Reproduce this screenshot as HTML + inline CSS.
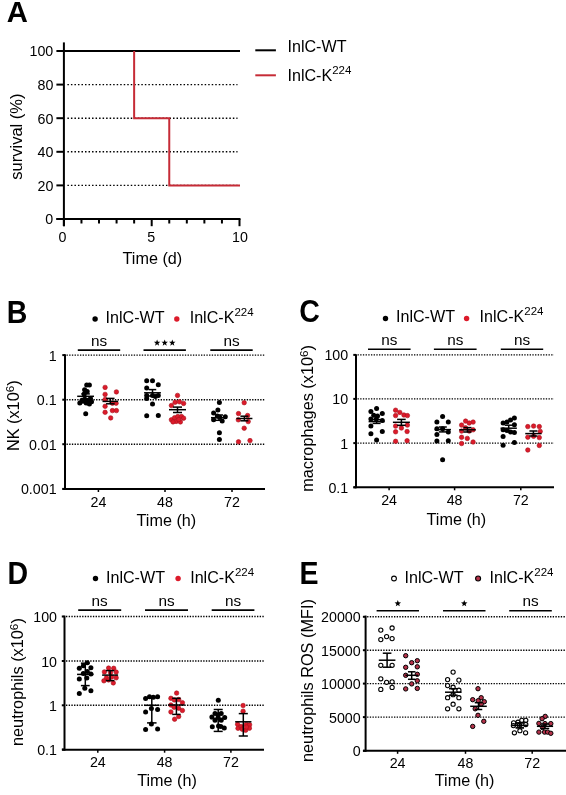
<!DOCTYPE html>
<html><head><meta charset="utf-8"><style>
html,body{margin:0;padding:0;background:#fff;}
svg{display:block;will-change:transform;}
text{font-family:"Liberation Sans", sans-serif;}
</style></head><body>
<svg width="566" height="795" viewBox="0 0 566 795">
<rect width="566" height="795" fill="#fff"/>
<text transform="translate(17.40,21.80) scale(0.97,1)" font-size="30.2" text-anchor="middle" font-weight="bold" fill="#000" >A</text>
<line x1="67.40" y1="185.40" x2="237.50" y2="185.40" stroke="#000" stroke-width="1.4" stroke-dasharray="1.5 2.02"/>
<line x1="67.40" y1="151.80" x2="237.50" y2="151.80" stroke="#000" stroke-width="1.4" stroke-dasharray="1.5 2.02"/>
<line x1="67.40" y1="118.20" x2="237.50" y2="118.20" stroke="#000" stroke-width="1.4" stroke-dasharray="1.5 2.02"/>
<line x1="67.40" y1="84.60" x2="237.50" y2="84.60" stroke="#000" stroke-width="1.4" stroke-dasharray="1.5 2.02"/>
<line x1="63.90" y1="42.40" x2="63.90" y2="226.20" stroke="#000" stroke-width="2" />
<line x1="56.40" y1="219.00" x2="240.50" y2="219.00" stroke="#000" stroke-width="2" />
<line x1="56.40" y1="219.00" x2="63.90" y2="219.00" stroke="#000" stroke-width="2" />
<text transform="translate(53.30,224.30) scale(0.92,1)" font-size="15.5" text-anchor="end" font-weight="normal" fill="#000" >0</text>
<line x1="56.40" y1="185.40" x2="63.90" y2="185.40" stroke="#000" stroke-width="2" />
<text transform="translate(53.30,190.70) scale(0.92,1)" font-size="15.5" text-anchor="end" font-weight="normal" fill="#000" >20</text>
<line x1="56.40" y1="151.80" x2="63.90" y2="151.80" stroke="#000" stroke-width="2" />
<text transform="translate(53.30,157.10) scale(0.92,1)" font-size="15.5" text-anchor="end" font-weight="normal" fill="#000" >40</text>
<line x1="56.40" y1="118.20" x2="63.90" y2="118.20" stroke="#000" stroke-width="2" />
<text transform="translate(53.30,123.50) scale(0.92,1)" font-size="15.5" text-anchor="end" font-weight="normal" fill="#000" >60</text>
<line x1="56.40" y1="84.60" x2="63.90" y2="84.60" stroke="#000" stroke-width="2" />
<text transform="translate(53.30,89.90) scale(0.92,1)" font-size="15.5" text-anchor="end" font-weight="normal" fill="#000" >80</text>
<line x1="56.40" y1="51.00" x2="63.90" y2="51.00" stroke="#000" stroke-width="2" />
<text transform="translate(53.30,56.30) scale(0.92,1)" font-size="15.5" text-anchor="end" font-weight="normal" fill="#000" >100</text>
<line x1="63.90" y1="219.00" x2="63.90" y2="226.20" stroke="#000" stroke-width="2" />
<text transform="translate(62.40,242.00) scale(0.92,1)" font-size="15.5" text-anchor="middle" font-weight="normal" fill="#000" >0</text>
<line x1="81.46" y1="219.00" x2="81.46" y2="223.50" stroke="#000" stroke-width="2" />
<line x1="99.02" y1="219.00" x2="99.02" y2="223.50" stroke="#000" stroke-width="2" />
<line x1="116.58" y1="219.00" x2="116.58" y2="223.50" stroke="#000" stroke-width="2" />
<line x1="134.14" y1="219.00" x2="134.14" y2="223.50" stroke="#000" stroke-width="2" />
<line x1="151.70" y1="219.00" x2="151.70" y2="226.20" stroke="#000" stroke-width="2" />
<text transform="translate(151.20,242.00) scale(0.92,1)" font-size="15.5" text-anchor="middle" font-weight="normal" fill="#000" >5</text>
<line x1="169.26" y1="219.00" x2="169.26" y2="223.50" stroke="#000" stroke-width="2" />
<line x1="186.82" y1="219.00" x2="186.82" y2="223.50" stroke="#000" stroke-width="2" />
<line x1="204.38" y1="219.00" x2="204.38" y2="223.50" stroke="#000" stroke-width="2" />
<line x1="221.94" y1="219.00" x2="221.94" y2="223.50" stroke="#000" stroke-width="2" />
<line x1="239.50" y1="219.00" x2="239.50" y2="226.20" stroke="#000" stroke-width="2" />
<text transform="translate(240.00,242.00) scale(0.92,1)" font-size="15.5" text-anchor="middle" font-weight="normal" fill="#000" >10</text>
<line x1="63.90" y1="51.00" x2="240.00" y2="51.00" stroke="#000" stroke-width="2" />
<polyline points="134.14,51.00 134.14,118.20 169.26,118.20 169.26,185.40 240.00,185.40" fill="none" stroke="#c62b36" stroke-width="2"/>
<text x="152.40" y="263.90" font-size="16.2" text-anchor="middle" font-weight="normal" fill="#000" >Time (d)</text>
<text transform="translate(21.60,136.60) rotate(-90) scale(1.0,1)" font-size="16.5" text-anchor="middle">survival (%)</text>
<line x1="255.30" y1="50.30" x2="275.90" y2="50.30" stroke="#000" stroke-width="2" />
<line x1="255.30" y1="75.30" x2="275.90" y2="75.30" stroke="#c62b36" stroke-width="2" />
<text x="287.50" y="51.80" font-size="16.1" text-anchor="start" font-weight="normal" fill="#000" >InlC-WT</text>
<text x="287.50" y="80.80" font-size="16.1" text-anchor="start" font-weight="normal" fill="#000" >InlC-K<tspan font-size="11.5" dy="-7">224</tspan></text>
<text transform="translate(17.05,322.60) scale(0.93,1)" font-size="30.7" text-anchor="middle" font-weight="bold" fill="#000" >B</text>
<line x1="66.50" y1="355.10" x2="265.00" y2="355.10" stroke="#000" stroke-width="1.4" stroke-dasharray="1.35 1.34"/>
<line x1="66.50" y1="399.70" x2="265.00" y2="399.70" stroke="#000" stroke-width="1.4" stroke-dasharray="1.35 1.34"/>
<line x1="66.50" y1="444.20" x2="265.00" y2="444.20" stroke="#000" stroke-width="1.4" stroke-dasharray="1.35 1.34"/>
<line x1="65.00" y1="354.30" x2="65.00" y2="490.00" stroke="#000" stroke-width="2" />
<line x1="62.50" y1="489.00" x2="265.00" y2="489.00" stroke="#000" stroke-width="2" />
<line x1="62.30" y1="355.10" x2="65.00" y2="355.10" stroke="#000" stroke-width="2" />
<text transform="translate(56.60,360.60) scale(0.92,1)" font-size="15.5" text-anchor="end" font-weight="normal" fill="#000" >1</text>
<line x1="62.30" y1="399.70" x2="65.00" y2="399.70" stroke="#000" stroke-width="2" />
<text transform="translate(56.60,405.20) scale(0.92,1)" font-size="15.5" text-anchor="end" font-weight="normal" fill="#000" >0.1</text>
<line x1="62.30" y1="444.20" x2="65.00" y2="444.20" stroke="#000" stroke-width="2" />
<text transform="translate(56.60,449.70) scale(0.92,1)" font-size="15.5" text-anchor="end" font-weight="normal" fill="#000" >0.01</text>
<line x1="62.30" y1="488.90" x2="65.00" y2="488.90" stroke="#000" stroke-width="2" />
<text transform="translate(56.60,494.40) scale(0.92,1)" font-size="15.5" text-anchor="end" font-weight="normal" fill="#000" >0.001</text>
<line x1="98.40" y1="489.00" x2="98.40" y2="492.00" stroke="#000" stroke-width="1.5" />
<text transform="translate(98.40,506.60) scale(0.92,1)" font-size="15.5" text-anchor="middle" font-weight="normal" fill="#000" >24</text>
<line x1="165.00" y1="489.00" x2="165.00" y2="492.00" stroke="#000" stroke-width="1.5" />
<text transform="translate(165.00,506.60) scale(0.92,1)" font-size="15.5" text-anchor="middle" font-weight="normal" fill="#000" >48</text>
<line x1="232.00" y1="489.00" x2="232.00" y2="492.00" stroke="#000" stroke-width="1.5" />
<text transform="translate(232.00,506.60) scale(0.92,1)" font-size="15.5" text-anchor="middle" font-weight="normal" fill="#000" >72</text>
<text x="166.40" y="525.60" font-size="16.2" text-anchor="middle" font-weight="normal" fill="#000" >Time (h)</text>
<text transform="translate(18.90,415.70) rotate(-90) scale(1.0,1)" font-size="16.3" text-anchor="middle">NK (x10<tspan font-size="11.8" dy="-4.6">6</tspan><tspan dy="4.6">)</tspan></text>
<circle cx="95.10" cy="319.00" r="2.7" fill="#000" stroke="none" stroke-width="0"/>
<circle cx="176.80" cy="319.00" r="2.7" fill="#dc1b2b" stroke="none" stroke-width="0"/>
<text x="105.60" y="322.70" font-size="16.1" text-anchor="start" font-weight="normal" fill="#000" >InlC-WT</text>
<text x="189.70" y="322.70" font-size="16.1" text-anchor="start" font-weight="normal" fill="#000" >InlC-K<tspan font-size="11.5" dy="-7">224</tspan></text>
<line x1="77.80" y1="350.10" x2="120.20" y2="350.10" stroke="#000" stroke-width="1.6" />
<text x="99.00" y="345.90" font-size="15.3" text-anchor="middle" font-weight="normal" fill="#000" >ns</text>
<line x1="143.50" y1="350.10" x2="185.90" y2="350.10" stroke="#000" stroke-width="1.6" />
<polygon points="157.10,339.50 157.95,341.73 160.33,341.85 158.48,343.35 159.10,345.65 157.10,344.35 155.10,345.65 155.72,343.35 153.87,341.85 156.25,341.73" fill="#000"/>
<polygon points="164.70,339.50 165.55,341.73 167.93,341.85 166.08,343.35 166.70,345.65 164.70,344.35 162.70,345.65 163.32,343.35 161.47,341.85 163.85,341.73" fill="#000"/>
<polygon points="172.30,339.50 173.15,341.73 175.53,341.85 173.68,343.35 174.30,345.65 172.30,344.35 170.30,345.65 170.92,343.35 169.07,341.85 171.45,341.73" fill="#000"/>
<line x1="210.30" y1="350.10" x2="252.70" y2="350.10" stroke="#000" stroke-width="1.6" />
<text x="231.50" y="345.90" font-size="15.3" text-anchor="middle" font-weight="normal" fill="#000" >ns</text>
<circle cx="86.70" cy="384.90" r="2.5" fill="#000" stroke="none" stroke-width="0"/>
<circle cx="89.40" cy="384.90" r="2.5" fill="#000" stroke="none" stroke-width="0"/>
<circle cx="84.60" cy="389.70" r="2.5" fill="#000" stroke="none" stroke-width="0"/>
<circle cx="87.20" cy="391.50" r="2.5" fill="#000" stroke="none" stroke-width="0"/>
<circle cx="84.10" cy="393.90" r="2.5" fill="#000" stroke="none" stroke-width="0"/>
<circle cx="79.80" cy="402.90" r="2.5" fill="#000" stroke="none" stroke-width="0"/>
<circle cx="83.00" cy="401.30" r="2.5" fill="#000" stroke="none" stroke-width="0"/>
<circle cx="86.20" cy="402.90" r="2.5" fill="#000" stroke="none" stroke-width="0"/>
<circle cx="89.40" cy="404.00" r="2.5" fill="#000" stroke="none" stroke-width="0"/>
<circle cx="91.50" cy="401.80" r="2.5" fill="#000" stroke="none" stroke-width="0"/>
<circle cx="88.30" cy="400.30" r="2.5" fill="#000" stroke="none" stroke-width="0"/>
<circle cx="84.60" cy="399.20" r="2.5" fill="#000" stroke="none" stroke-width="0"/>
<circle cx="82.00" cy="400.30" r="2.5" fill="#000" stroke="none" stroke-width="0"/>
<circle cx="85.70" cy="413.80" r="2.5" fill="#000" stroke="none" stroke-width="0"/>
<circle cx="90.50" cy="398.50" r="2.5" fill="#000" stroke="none" stroke-width="0"/>
<line x1="77.20" y1="396.30" x2="94.00" y2="396.30" stroke="#000" stroke-width="1.5" />
<line x1="85.60" y1="393.90" x2="85.60" y2="399.00" stroke="#000" stroke-width="1.5" />
<line x1="81.35" y1="393.90" x2="89.85" y2="393.90" stroke="#000" stroke-width="1.5" />
<line x1="81.35" y1="399.00" x2="89.85" y2="399.00" stroke="#000" stroke-width="1.5" />
<circle cx="105.10" cy="387.40" r="2.25" fill="#dc1b2b" stroke="#a8111b" stroke-width="0.6"/>
<circle cx="116.40" cy="391.90" r="2.25" fill="#dc1b2b" stroke="#a8111b" stroke-width="0.6"/>
<circle cx="105.10" cy="394.40" r="2.25" fill="#dc1b2b" stroke="#a8111b" stroke-width="0.6"/>
<circle cx="105.10" cy="399.50" r="2.25" fill="#dc1b2b" stroke="#a8111b" stroke-width="0.6"/>
<circle cx="116.10" cy="403.20" r="2.25" fill="#dc1b2b" stroke="#a8111b" stroke-width="0.6"/>
<circle cx="105.10" cy="406.30" r="2.25" fill="#dc1b2b" stroke="#a8111b" stroke-width="0.6"/>
<circle cx="105.10" cy="412.30" r="2.25" fill="#dc1b2b" stroke="#a8111b" stroke-width="0.6"/>
<circle cx="112.40" cy="410.60" r="2.25" fill="#dc1b2b" stroke="#a8111b" stroke-width="0.6"/>
<circle cx="116.40" cy="410.60" r="2.25" fill="#dc1b2b" stroke="#a8111b" stroke-width="0.6"/>
<circle cx="110.70" cy="417.90" r="2.25" fill="#dc1b2b" stroke="#a8111b" stroke-width="0.6"/>
<circle cx="112.40" cy="403.20" r="2.25" fill="#dc1b2b" stroke="#a8111b" stroke-width="0.6"/>
<line x1="102.50" y1="401.40" x2="118.10" y2="401.40" stroke="#000" stroke-width="1.5" />
<line x1="110.30" y1="398.40" x2="110.30" y2="403.80" stroke="#000" stroke-width="1.5" />
<line x1="106.05" y1="398.40" x2="114.55" y2="398.40" stroke="#000" stroke-width="1.5" />
<line x1="106.05" y1="403.80" x2="114.55" y2="403.80" stroke="#000" stroke-width="1.5" />
<circle cx="146.70" cy="380.70" r="2.5" fill="#000" stroke="none" stroke-width="0"/>
<circle cx="152.50" cy="380.70" r="2.5" fill="#000" stroke="none" stroke-width="0"/>
<circle cx="158.30" cy="384.70" r="2.5" fill="#000" stroke="none" stroke-width="0"/>
<circle cx="146.70" cy="387.90" r="2.5" fill="#000" stroke="none" stroke-width="0"/>
<circle cx="146.70" cy="395.40" r="2.5" fill="#000" stroke="none" stroke-width="0"/>
<circle cx="146.70" cy="398.40" r="2.5" fill="#000" stroke="none" stroke-width="0"/>
<circle cx="152.50" cy="395.40" r="2.5" fill="#000" stroke="none" stroke-width="0"/>
<circle cx="158.30" cy="395.40" r="2.5" fill="#000" stroke="none" stroke-width="0"/>
<circle cx="155.40" cy="396.50" r="2.5" fill="#000" stroke="none" stroke-width="0"/>
<circle cx="152.50" cy="404.10" r="2.5" fill="#000" stroke="none" stroke-width="0"/>
<circle cx="146.70" cy="415.70" r="2.5" fill="#000" stroke="none" stroke-width="0"/>
<circle cx="158.30" cy="415.40" r="2.5" fill="#000" stroke="none" stroke-width="0"/>
<line x1="144.10" y1="392.80" x2="160.90" y2="392.80" stroke="#000" stroke-width="1.5" />
<line x1="152.50" y1="389.60" x2="152.50" y2="396.00" stroke="#000" stroke-width="1.5" />
<line x1="148.75" y1="389.60" x2="156.25" y2="389.60" stroke="#000" stroke-width="1.5" />
<line x1="148.75" y1="396.00" x2="156.25" y2="396.00" stroke="#000" stroke-width="1.5" />
<circle cx="177.50" cy="395.40" r="2.25" fill="#dc1b2b" stroke="#a8111b" stroke-width="0.6"/>
<circle cx="175.10" cy="402.30" r="2.25" fill="#dc1b2b" stroke="#a8111b" stroke-width="0.6"/>
<circle cx="179.40" cy="401.80" r="2.25" fill="#dc1b2b" stroke="#a8111b" stroke-width="0.6"/>
<circle cx="183.60" cy="403.40" r="2.25" fill="#dc1b2b" stroke="#a8111b" stroke-width="0.6"/>
<circle cx="171.40" cy="405.50" r="2.25" fill="#dc1b2b" stroke="#a8111b" stroke-width="0.6"/>
<circle cx="171.40" cy="419.80" r="2.25" fill="#dc1b2b" stroke="#a8111b" stroke-width="0.6"/>
<circle cx="174.60" cy="417.70" r="2.25" fill="#dc1b2b" stroke="#a8111b" stroke-width="0.6"/>
<circle cx="177.80" cy="416.60" r="2.25" fill="#dc1b2b" stroke="#a8111b" stroke-width="0.6"/>
<circle cx="181.50" cy="416.60" r="2.25" fill="#dc1b2b" stroke="#a8111b" stroke-width="0.6"/>
<circle cx="183.60" cy="418.20" r="2.25" fill="#dc1b2b" stroke="#a8111b" stroke-width="0.6"/>
<circle cx="176.20" cy="421.40" r="2.25" fill="#dc1b2b" stroke="#a8111b" stroke-width="0.6"/>
<circle cx="180.40" cy="421.90" r="2.25" fill="#dc1b2b" stroke="#a8111b" stroke-width="0.6"/>
<circle cx="173.00" cy="421.90" r="2.25" fill="#dc1b2b" stroke="#a8111b" stroke-width="0.6"/>
<circle cx="178.80" cy="419.60" r="2.25" fill="#dc1b2b" stroke="#a8111b" stroke-width="0.6"/>
<line x1="169.00" y1="409.70" x2="186.00" y2="409.70" stroke="#000" stroke-width="1.5" />
<line x1="177.50" y1="407.10" x2="177.50" y2="412.50" stroke="#000" stroke-width="1.5" />
<line x1="173.00" y1="407.10" x2="182.00" y2="407.10" stroke="#000" stroke-width="1.5" />
<line x1="173.00" y1="412.50" x2="182.00" y2="412.50" stroke="#000" stroke-width="1.5" />
<circle cx="219.40" cy="402.50" r="2.5" fill="#000" stroke="none" stroke-width="0"/>
<circle cx="217.90" cy="410.10" r="2.5" fill="#000" stroke="none" stroke-width="0"/>
<circle cx="213.60" cy="413.00" r="2.5" fill="#000" stroke="none" stroke-width="0"/>
<circle cx="213.60" cy="419.80" r="2.5" fill="#000" stroke="none" stroke-width="0"/>
<circle cx="219.70" cy="417.30" r="2.5" fill="#000" stroke="none" stroke-width="0"/>
<circle cx="225.30" cy="416.70" r="2.5" fill="#000" stroke="none" stroke-width="0"/>
<circle cx="222.20" cy="421.00" r="2.5" fill="#000" stroke="none" stroke-width="0"/>
<circle cx="217.30" cy="416.00" r="2.5" fill="#000" stroke="none" stroke-width="0"/>
<circle cx="219.40" cy="432.80" r="2.5" fill="#000" stroke="none" stroke-width="0"/>
<circle cx="219.40" cy="439.60" r="2.5" fill="#000" stroke="none" stroke-width="0"/>
<line x1="211.00" y1="417.70" x2="227.00" y2="417.70" stroke="#000" stroke-width="1.5" />
<line x1="219.00" y1="415.00" x2="219.00" y2="420.30" stroke="#000" stroke-width="1.5" />
<line x1="215.00" y1="415.00" x2="223.00" y2="415.00" stroke="#000" stroke-width="1.5" />
<line x1="215.00" y1="420.30" x2="223.00" y2="420.30" stroke="#000" stroke-width="1.5" />
<circle cx="244.20" cy="402.70" r="2.25" fill="#dc1b2b" stroke="#a8111b" stroke-width="0.6"/>
<circle cx="238.50" cy="413.60" r="2.25" fill="#dc1b2b" stroke="#a8111b" stroke-width="0.6"/>
<circle cx="247.60" cy="415.50" r="2.25" fill="#dc1b2b" stroke="#a8111b" stroke-width="0.6"/>
<circle cx="238.30" cy="419.80" r="2.25" fill="#dc1b2b" stroke="#a8111b" stroke-width="0.6"/>
<circle cx="248.20" cy="421.60" r="2.25" fill="#dc1b2b" stroke="#a8111b" stroke-width="0.6"/>
<circle cx="244.20" cy="428.20" r="2.25" fill="#dc1b2b" stroke="#a8111b" stroke-width="0.6"/>
<circle cx="238.50" cy="441.80" r="2.25" fill="#dc1b2b" stroke="#a8111b" stroke-width="0.6"/>
<circle cx="250.00" cy="440.60" r="2.25" fill="#dc1b2b" stroke="#a8111b" stroke-width="0.6"/>
<line x1="236.40" y1="418.50" x2="252.40" y2="418.50" stroke="#000" stroke-width="1.5" />
<line x1="244.40" y1="416.20" x2="244.40" y2="420.80" stroke="#000" stroke-width="1.5" />
<line x1="240.40" y1="416.20" x2="248.40" y2="416.20" stroke="#000" stroke-width="1.5" />
<line x1="240.40" y1="420.80" x2="248.40" y2="420.80" stroke="#000" stroke-width="1.5" />
<text transform="translate(309.60,322.40) scale(0.93,1)" font-size="30.7" text-anchor="middle" font-weight="bold" fill="#000" >C</text>
<line x1="357.50" y1="354.90" x2="554.00" y2="354.90" stroke="#000" stroke-width="1.4" stroke-dasharray="1.35 1.34"/>
<line x1="357.50" y1="398.90" x2="554.00" y2="398.90" stroke="#000" stroke-width="1.4" stroke-dasharray="1.35 1.34"/>
<line x1="357.50" y1="443.10" x2="554.00" y2="443.10" stroke="#000" stroke-width="1.4" stroke-dasharray="1.35 1.34"/>
<line x1="356.00" y1="354.30" x2="356.00" y2="488.30" stroke="#000" stroke-width="2" />
<line x1="353.50" y1="487.30" x2="554.00" y2="487.30" stroke="#000" stroke-width="2" />
<line x1="353.30" y1="354.90" x2="356.00" y2="354.90" stroke="#000" stroke-width="2" />
<text transform="translate(348.20,360.40) scale(0.92,1)" font-size="15.5" text-anchor="end" font-weight="normal" fill="#000" >100</text>
<line x1="353.30" y1="398.90" x2="356.00" y2="398.90" stroke="#000" stroke-width="2" />
<text transform="translate(348.20,404.40) scale(0.92,1)" font-size="15.5" text-anchor="end" font-weight="normal" fill="#000" >10</text>
<line x1="353.30" y1="443.10" x2="356.00" y2="443.10" stroke="#000" stroke-width="2" />
<text transform="translate(348.20,448.60) scale(0.92,1)" font-size="15.5" text-anchor="end" font-weight="normal" fill="#000" >1</text>
<line x1="353.30" y1="487.30" x2="356.00" y2="487.30" stroke="#000" stroke-width="2" />
<text transform="translate(348.20,492.80) scale(0.92,1)" font-size="15.5" text-anchor="end" font-weight="normal" fill="#000" >0.1</text>
<line x1="389.10" y1="487.30" x2="389.10" y2="490.30" stroke="#000" stroke-width="1.5" />
<text transform="translate(389.10,504.90) scale(0.92,1)" font-size="15.5" text-anchor="middle" font-weight="normal" fill="#000" >24</text>
<line x1="454.60" y1="487.30" x2="454.60" y2="490.30" stroke="#000" stroke-width="1.5" />
<text transform="translate(454.60,504.90) scale(0.92,1)" font-size="15.5" text-anchor="middle" font-weight="normal" fill="#000" >48</text>
<line x1="520.80" y1="487.30" x2="520.80" y2="490.30" stroke="#000" stroke-width="1.5" />
<text transform="translate(520.80,504.90) scale(0.92,1)" font-size="15.5" text-anchor="middle" font-weight="normal" fill="#000" >72</text>
<text x="456.40" y="524.60" font-size="16.2" text-anchor="middle" font-weight="normal" fill="#000" >Time (h)</text>
<text transform="translate(312.50,418.40) rotate(-90) scale(1.0,1)" font-size="16.3" text-anchor="middle">macrophages (x10<tspan font-size="11.8" dy="-4.6">6</tspan><tspan dy="4.6">)</tspan></text>
<circle cx="385.50" cy="318.50" r="2.7" fill="#000" stroke="none" stroke-width="0"/>
<circle cx="466.60" cy="318.50" r="2.7" fill="#dc1b2b" stroke="none" stroke-width="0"/>
<text x="396.00" y="322.20" font-size="16.1" text-anchor="start" font-weight="normal" fill="#000" >InlC-WT</text>
<text x="479.60" y="322.20" font-size="16.1" text-anchor="start" font-weight="normal" fill="#000" >InlC-K<tspan font-size="11.5" dy="-7">224</tspan></text>
<line x1="368.00" y1="349.30" x2="410.60" y2="349.30" stroke="#000" stroke-width="1.6" />
<text x="389.30" y="345.10" font-size="15.3" text-anchor="middle" font-weight="normal" fill="#000" >ns</text>
<line x1="433.90" y1="349.30" x2="476.60" y2="349.30" stroke="#000" stroke-width="1.6" />
<text x="455.25" y="345.10" font-size="15.3" text-anchor="middle" font-weight="normal" fill="#000" >ns</text>
<line x1="500.80" y1="349.30" x2="543.20" y2="349.30" stroke="#000" stroke-width="1.6" />
<text x="522.00" y="345.10" font-size="15.3" text-anchor="middle" font-weight="normal" fill="#000" >ns</text>
<circle cx="376.60" cy="408.60" r="2.5" fill="#000" stroke="none" stroke-width="0"/>
<circle cx="370.90" cy="411.50" r="2.5" fill="#000" stroke="none" stroke-width="0"/>
<circle cx="382.30" cy="413.40" r="2.5" fill="#000" stroke="none" stroke-width="0"/>
<circle cx="373.70" cy="415.30" r="2.5" fill="#000" stroke="none" stroke-width="0"/>
<circle cx="377.50" cy="415.90" r="2.5" fill="#000" stroke="none" stroke-width="0"/>
<circle cx="370.90" cy="419.10" r="2.5" fill="#000" stroke="none" stroke-width="0"/>
<circle cx="382.30" cy="420.40" r="2.5" fill="#000" stroke="none" stroke-width="0"/>
<circle cx="376.30" cy="419.10" r="2.5" fill="#000" stroke="none" stroke-width="0"/>
<circle cx="370.90" cy="426.10" r="2.5" fill="#000" stroke="none" stroke-width="0"/>
<circle cx="382.30" cy="431.50" r="2.5" fill="#000" stroke="none" stroke-width="0"/>
<circle cx="370.90" cy="433.70" r="2.5" fill="#000" stroke="none" stroke-width="0"/>
<circle cx="376.60" cy="440.10" r="2.5" fill="#000" stroke="none" stroke-width="0"/>
<line x1="368.60" y1="421.60" x2="384.60" y2="421.60" stroke="#000" stroke-width="1.5" />
<line x1="376.60" y1="419.60" x2="376.60" y2="423.40" stroke="#000" stroke-width="1.5" />
<line x1="372.60" y1="419.60" x2="380.60" y2="419.60" stroke="#000" stroke-width="1.5" />
<line x1="372.60" y1="423.40" x2="380.60" y2="423.40" stroke="#000" stroke-width="1.5" />
<circle cx="395.60" cy="410.20" r="2.25" fill="#dc1b2b" stroke="#a8111b" stroke-width="0.6"/>
<circle cx="399.80" cy="412.40" r="2.25" fill="#dc1b2b" stroke="#a8111b" stroke-width="0.6"/>
<circle cx="395.60" cy="415.60" r="2.25" fill="#dc1b2b" stroke="#a8111b" stroke-width="0.6"/>
<circle cx="403.90" cy="415.00" r="2.25" fill="#dc1b2b" stroke="#a8111b" stroke-width="0.6"/>
<circle cx="407.40" cy="415.60" r="2.25" fill="#dc1b2b" stroke="#a8111b" stroke-width="0.6"/>
<circle cx="395.60" cy="426.10" r="2.25" fill="#dc1b2b" stroke="#a8111b" stroke-width="0.6"/>
<circle cx="401.40" cy="428.00" r="2.25" fill="#dc1b2b" stroke="#a8111b" stroke-width="0.6"/>
<circle cx="407.40" cy="425.10" r="2.25" fill="#dc1b2b" stroke="#a8111b" stroke-width="0.6"/>
<circle cx="395.60" cy="431.80" r="2.25" fill="#dc1b2b" stroke="#a8111b" stroke-width="0.6"/>
<circle cx="407.10" cy="431.50" r="2.25" fill="#dc1b2b" stroke="#a8111b" stroke-width="0.6"/>
<circle cx="395.60" cy="441.30" r="2.25" fill="#dc1b2b" stroke="#a8111b" stroke-width="0.6"/>
<circle cx="407.10" cy="440.70" r="2.25" fill="#dc1b2b" stroke="#a8111b" stroke-width="0.6"/>
<line x1="392.90" y1="422.30" x2="409.90" y2="422.30" stroke="#000" stroke-width="1.5" />
<line x1="401.40" y1="419.40" x2="401.40" y2="425.30" stroke="#000" stroke-width="1.5" />
<line x1="397.10" y1="419.40" x2="405.70" y2="419.40" stroke="#000" stroke-width="1.5" />
<line x1="397.10" y1="425.30" x2="405.70" y2="425.30" stroke="#000" stroke-width="1.5" />
<circle cx="442.60" cy="416.40" r="2.5" fill="#000" stroke="none" stroke-width="0"/>
<circle cx="436.90" cy="422.10" r="2.5" fill="#000" stroke="none" stroke-width="0"/>
<circle cx="448.30" cy="422.10" r="2.5" fill="#000" stroke="none" stroke-width="0"/>
<circle cx="436.90" cy="428.80" r="2.5" fill="#000" stroke="none" stroke-width="0"/>
<circle cx="442.60" cy="428.80" r="2.5" fill="#000" stroke="none" stroke-width="0"/>
<circle cx="448.30" cy="431.90" r="2.5" fill="#000" stroke="none" stroke-width="0"/>
<circle cx="436.90" cy="434.50" r="2.5" fill="#000" stroke="none" stroke-width="0"/>
<circle cx="436.90" cy="441.10" r="2.5" fill="#000" stroke="none" stroke-width="0"/>
<circle cx="448.30" cy="440.70" r="2.5" fill="#000" stroke="none" stroke-width="0"/>
<circle cx="442.60" cy="459.70" r="2.5" fill="#000" stroke="none" stroke-width="0"/>
<line x1="434.65" y1="429.60" x2="450.95" y2="429.60" stroke="#000" stroke-width="1.5" />
<line x1="442.80" y1="427.00" x2="442.80" y2="431.90" stroke="#000" stroke-width="1.5" />
<line x1="438.80" y1="427.00" x2="446.80" y2="427.00" stroke="#000" stroke-width="1.5" />
<line x1="438.80" y1="431.90" x2="446.80" y2="431.90" stroke="#000" stroke-width="1.5" />
<circle cx="465.60" cy="421.10" r="2.25" fill="#dc1b2b" stroke="#a8111b" stroke-width="0.6"/>
<circle cx="473.10" cy="422.10" r="2.25" fill="#dc1b2b" stroke="#a8111b" stroke-width="0.6"/>
<circle cx="469.20" cy="423.00" r="2.25" fill="#dc1b2b" stroke="#a8111b" stroke-width="0.6"/>
<circle cx="461.60" cy="425.10" r="2.25" fill="#dc1b2b" stroke="#a8111b" stroke-width="0.6"/>
<circle cx="465.50" cy="427.80" r="2.25" fill="#dc1b2b" stroke="#a8111b" stroke-width="0.6"/>
<circle cx="473.10" cy="429.80" r="2.25" fill="#dc1b2b" stroke="#a8111b" stroke-width="0.6"/>
<circle cx="461.60" cy="431.10" r="2.25" fill="#dc1b2b" stroke="#a8111b" stroke-width="0.6"/>
<circle cx="469.20" cy="431.10" r="2.25" fill="#dc1b2b" stroke="#a8111b" stroke-width="0.6"/>
<circle cx="461.60" cy="437.30" r="2.25" fill="#dc1b2b" stroke="#a8111b" stroke-width="0.6"/>
<circle cx="467.30" cy="438.40" r="2.25" fill="#dc1b2b" stroke="#a8111b" stroke-width="0.6"/>
<circle cx="461.60" cy="443.50" r="2.25" fill="#dc1b2b" stroke="#a8111b" stroke-width="0.6"/>
<circle cx="473.10" cy="442.00" r="2.25" fill="#dc1b2b" stroke="#a8111b" stroke-width="0.6"/>
<line x1="459.25" y1="429.80" x2="475.75" y2="429.80" stroke="#000" stroke-width="1.5" />
<line x1="467.50" y1="427.60" x2="467.50" y2="432.00" stroke="#000" stroke-width="1.5" />
<line x1="463.50" y1="427.60" x2="471.50" y2="427.60" stroke="#000" stroke-width="1.5" />
<line x1="463.50" y1="432.00" x2="471.50" y2="432.00" stroke="#000" stroke-width="1.5" />
<circle cx="514.40" cy="418.10" r="2.5" fill="#000" stroke="none" stroke-width="0"/>
<circle cx="510.50" cy="419.90" r="2.5" fill="#000" stroke="none" stroke-width="0"/>
<circle cx="507.00" cy="422.00" r="2.5" fill="#000" stroke="none" stroke-width="0"/>
<circle cx="503.10" cy="423.10" r="2.5" fill="#000" stroke="none" stroke-width="0"/>
<circle cx="514.40" cy="424.80" r="2.5" fill="#000" stroke="none" stroke-width="0"/>
<circle cx="503.10" cy="429.80" r="2.5" fill="#000" stroke="none" stroke-width="0"/>
<circle cx="507.00" cy="430.50" r="2.5" fill="#000" stroke="none" stroke-width="0"/>
<circle cx="510.50" cy="431.90" r="2.5" fill="#000" stroke="none" stroke-width="0"/>
<circle cx="514.40" cy="432.60" r="2.5" fill="#000" stroke="none" stroke-width="0"/>
<circle cx="503.10" cy="436.50" r="2.5" fill="#000" stroke="none" stroke-width="0"/>
<circle cx="514.40" cy="442.60" r="2.5" fill="#000" stroke="none" stroke-width="0"/>
<circle cx="503.10" cy="445.30" r="2.5" fill="#000" stroke="none" stroke-width="0"/>
<line x1="500.55" y1="428.20" x2="516.85" y2="428.20" stroke="#000" stroke-width="1.5" />
<line x1="508.70" y1="425.20" x2="508.70" y2="431.00" stroke="#000" stroke-width="1.5" />
<line x1="504.70" y1="425.20" x2="512.70" y2="425.20" stroke="#000" stroke-width="1.5" />
<line x1="504.70" y1="431.00" x2="512.70" y2="431.00" stroke="#000" stroke-width="1.5" />
<circle cx="527.80" cy="426.60" r="2.25" fill="#dc1b2b" stroke="#a8111b" stroke-width="0.6"/>
<circle cx="533.60" cy="426.10" r="2.25" fill="#dc1b2b" stroke="#a8111b" stroke-width="0.6"/>
<circle cx="539.30" cy="426.60" r="2.25" fill="#dc1b2b" stroke="#a8111b" stroke-width="0.6"/>
<circle cx="540.20" cy="431.40" r="2.25" fill="#dc1b2b" stroke="#a8111b" stroke-width="0.6"/>
<circle cx="527.80" cy="437.20" r="2.25" fill="#dc1b2b" stroke="#a8111b" stroke-width="0.6"/>
<circle cx="533.60" cy="436.30" r="2.25" fill="#dc1b2b" stroke="#a8111b" stroke-width="0.6"/>
<circle cx="539.30" cy="437.60" r="2.25" fill="#dc1b2b" stroke="#a8111b" stroke-width="0.6"/>
<circle cx="539.30" cy="445.50" r="2.25" fill="#dc1b2b" stroke="#a8111b" stroke-width="0.6"/>
<circle cx="527.80" cy="450.00" r="2.25" fill="#dc1b2b" stroke="#a8111b" stroke-width="0.6"/>
<line x1="525.25" y1="433.60" x2="541.55" y2="433.60" stroke="#000" stroke-width="1.5" />
<line x1="533.40" y1="431.00" x2="533.40" y2="436.00" stroke="#000" stroke-width="1.5" />
<line x1="529.40" y1="431.00" x2="537.40" y2="431.00" stroke="#000" stroke-width="1.5" />
<line x1="529.40" y1="436.00" x2="537.40" y2="436.00" stroke="#000" stroke-width="1.5" />
<text transform="translate(17.85,583.80) scale(0.93,1)" font-size="30.7" text-anchor="middle" font-weight="bold" fill="#000" >D</text>
<line x1="66.00" y1="616.50" x2="264.00" y2="616.50" stroke="#000" stroke-width="1.4" stroke-dasharray="1.35 1.34"/>
<line x1="66.00" y1="661.00" x2="264.00" y2="661.00" stroke="#000" stroke-width="1.4" stroke-dasharray="1.35 1.34"/>
<line x1="66.00" y1="705.30" x2="264.00" y2="705.30" stroke="#000" stroke-width="1.4" stroke-dasharray="1.35 1.34"/>
<line x1="64.50" y1="615.60" x2="64.50" y2="750.70" stroke="#000" stroke-width="2" />
<line x1="62.00" y1="749.70" x2="264.00" y2="749.70" stroke="#000" stroke-width="2" />
<line x1="61.80" y1="616.50" x2="64.50" y2="616.50" stroke="#000" stroke-width="2" />
<text transform="translate(57.00,622.00) scale(0.92,1)" font-size="15.5" text-anchor="end" font-weight="normal" fill="#000" >100</text>
<line x1="61.80" y1="661.00" x2="64.50" y2="661.00" stroke="#000" stroke-width="2" />
<text transform="translate(57.00,666.50) scale(0.92,1)" font-size="15.5" text-anchor="end" font-weight="normal" fill="#000" >10</text>
<line x1="61.80" y1="705.30" x2="64.50" y2="705.30" stroke="#000" stroke-width="2" />
<text transform="translate(57.00,710.80) scale(0.92,1)" font-size="15.5" text-anchor="end" font-weight="normal" fill="#000" >1</text>
<line x1="61.80" y1="749.50" x2="64.50" y2="749.50" stroke="#000" stroke-width="2" />
<text transform="translate(57.00,755.00) scale(0.92,1)" font-size="15.5" text-anchor="end" font-weight="normal" fill="#000" >0.1</text>
<line x1="97.80" y1="749.70" x2="97.80" y2="752.70" stroke="#000" stroke-width="1.5" />
<text transform="translate(97.80,767.30) scale(0.92,1)" font-size="15.5" text-anchor="middle" font-weight="normal" fill="#000" >24</text>
<line x1="164.60" y1="749.70" x2="164.60" y2="752.70" stroke="#000" stroke-width="1.5" />
<text transform="translate(164.60,767.30) scale(0.92,1)" font-size="15.5" text-anchor="middle" font-weight="normal" fill="#000" >48</text>
<line x1="230.90" y1="749.70" x2="230.90" y2="752.70" stroke="#000" stroke-width="1.5" />
<text transform="translate(230.90,767.30) scale(0.92,1)" font-size="15.5" text-anchor="middle" font-weight="normal" fill="#000" >72</text>
<text x="167.00" y="785.50" font-size="16.2" text-anchor="middle" font-weight="normal" fill="#000" >Time (h)</text>
<text transform="translate(22.50,682.10) rotate(-90) scale(1.0,1)" font-size="16.3" text-anchor="middle">neutrophils (x10<tspan font-size="11.8" dy="-4.6">6</tspan><tspan dy="4.6">)</tspan></text>
<circle cx="95.50" cy="578.50" r="2.7" fill="#000" stroke="none" stroke-width="0"/>
<circle cx="178.10" cy="578.50" r="2.7" fill="#dc1b2b" stroke="none" stroke-width="0"/>
<text x="106.00" y="582.80" font-size="16.1" text-anchor="start" font-weight="normal" fill="#000" >InlC-WT</text>
<text x="190.20" y="582.80" font-size="16.1" text-anchor="start" font-weight="normal" fill="#000" >InlC-K<tspan font-size="11.5" dy="-7">224</tspan></text>
<line x1="78.20" y1="610.10" x2="121.20" y2="610.10" stroke="#000" stroke-width="1.6" />
<text x="99.70" y="605.80" font-size="15.3" text-anchor="middle" font-weight="normal" fill="#000" >ns</text>
<line x1="145.00" y1="610.10" x2="188.00" y2="610.10" stroke="#000" stroke-width="1.6" />
<text x="166.50" y="605.80" font-size="15.3" text-anchor="middle" font-weight="normal" fill="#000" >ns</text>
<line x1="211.70" y1="610.10" x2="254.40" y2="610.10" stroke="#000" stroke-width="1.6" />
<text x="233.05" y="605.80" font-size="15.3" text-anchor="middle" font-weight="normal" fill="#000" >ns</text>
<circle cx="87.30" cy="662.80" r="2.5" fill="#000" stroke="none" stroke-width="0"/>
<circle cx="83.30" cy="665.80" r="2.5" fill="#000" stroke="none" stroke-width="0"/>
<circle cx="79.30" cy="668.30" r="2.5" fill="#000" stroke="none" stroke-width="0"/>
<circle cx="90.90" cy="667.80" r="2.5" fill="#000" stroke="none" stroke-width="0"/>
<circle cx="87.30" cy="671.60" r="2.5" fill="#000" stroke="none" stroke-width="0"/>
<circle cx="83.30" cy="673.60" r="2.5" fill="#000" stroke="none" stroke-width="0"/>
<circle cx="90.90" cy="674.10" r="2.5" fill="#000" stroke="none" stroke-width="0"/>
<circle cx="79.30" cy="679.10" r="2.5" fill="#000" stroke="none" stroke-width="0"/>
<circle cx="86.80" cy="678.10" r="2.5" fill="#000" stroke="none" stroke-width="0"/>
<circle cx="84.80" cy="688.20" r="2.5" fill="#000" stroke="none" stroke-width="0"/>
<circle cx="90.90" cy="690.70" r="2.5" fill="#000" stroke="none" stroke-width="0"/>
<circle cx="79.30" cy="693.50" r="2.5" fill="#000" stroke="none" stroke-width="0"/>
<line x1="77.05" y1="674.40" x2="93.55" y2="674.40" stroke="#000" stroke-width="1.5" />
<line x1="85.30" y1="663.20" x2="85.30" y2="685.60" stroke="#000" stroke-width="1.5" />
<line x1="80.90" y1="663.20" x2="89.70" y2="663.20" stroke="#000" stroke-width="1.5" />
<line x1="80.90" y1="685.60" x2="89.70" y2="685.60" stroke="#000" stroke-width="1.5" />
<circle cx="108.60" cy="668.10" r="2.25" fill="#dc1b2b" stroke="#a8111b" stroke-width="0.6"/>
<circle cx="113.70" cy="668.30" r="2.25" fill="#dc1b2b" stroke="#a8111b" stroke-width="0.6"/>
<circle cx="104.40" cy="671.90" r="2.25" fill="#dc1b2b" stroke="#a8111b" stroke-width="0.6"/>
<circle cx="116.20" cy="672.10" r="2.25" fill="#dc1b2b" stroke="#a8111b" stroke-width="0.6"/>
<circle cx="110.50" cy="672.50" r="2.25" fill="#dc1b2b" stroke="#a8111b" stroke-width="0.6"/>
<circle cx="106.50" cy="677.80" r="2.25" fill="#dc1b2b" stroke="#a8111b" stroke-width="0.6"/>
<circle cx="116.20" cy="677.80" r="2.25" fill="#dc1b2b" stroke="#a8111b" stroke-width="0.6"/>
<circle cx="103.90" cy="680.80" r="2.25" fill="#dc1b2b" stroke="#a8111b" stroke-width="0.6"/>
<circle cx="108.60" cy="679.90" r="2.25" fill="#dc1b2b" stroke="#a8111b" stroke-width="0.6"/>
<circle cx="113.30" cy="682.90" r="2.25" fill="#dc1b2b" stroke="#a8111b" stroke-width="0.6"/>
<circle cx="111.60" cy="677.00" r="2.25" fill="#dc1b2b" stroke="#a8111b" stroke-width="0.6"/>
<line x1="102.10" y1="675.10" x2="118.10" y2="675.10" stroke="#000" stroke-width="1.5" />
<line x1="110.10" y1="670.60" x2="110.10" y2="680.60" stroke="#000" stroke-width="1.5" />
<line x1="105.85" y1="670.60" x2="114.35" y2="670.60" stroke="#000" stroke-width="1.5" />
<line x1="105.85" y1="680.60" x2="114.35" y2="680.60" stroke="#000" stroke-width="1.5" />
<circle cx="145.60" cy="698.60" r="2.5" fill="#000" stroke="none" stroke-width="0"/>
<circle cx="149.50" cy="696.70" r="2.5" fill="#000" stroke="none" stroke-width="0"/>
<circle cx="153.30" cy="697.20" r="2.5" fill="#000" stroke="none" stroke-width="0"/>
<circle cx="157.60" cy="696.70" r="2.5" fill="#000" stroke="none" stroke-width="0"/>
<circle cx="151.40" cy="708.60" r="2.5" fill="#000" stroke="none" stroke-width="0"/>
<circle cx="157.60" cy="709.60" r="2.5" fill="#000" stroke="none" stroke-width="0"/>
<circle cx="145.60" cy="711.90" r="2.5" fill="#000" stroke="none" stroke-width="0"/>
<circle cx="151.40" cy="723.90" r="2.5" fill="#000" stroke="none" stroke-width="0"/>
<circle cx="145.60" cy="729.60" r="2.5" fill="#000" stroke="none" stroke-width="0"/>
<circle cx="157.60" cy="729.10" r="2.5" fill="#000" stroke="none" stroke-width="0"/>
<line x1="144.15" y1="705.30" x2="159.45" y2="705.30" stroke="#000" stroke-width="1.5" />
<line x1="151.80" y1="697.60" x2="151.80" y2="722.90" stroke="#000" stroke-width="1.5" />
<line x1="147.05" y1="697.60" x2="156.55" y2="697.60" stroke="#000" stroke-width="1.5" />
<line x1="147.05" y1="722.90" x2="156.55" y2="722.90" stroke="#000" stroke-width="1.5" />
<circle cx="176.60" cy="693.10" r="2.25" fill="#dc1b2b" stroke="#a8111b" stroke-width="0.6"/>
<circle cx="170.90" cy="698.30" r="2.25" fill="#dc1b2b" stroke="#a8111b" stroke-width="0.6"/>
<circle cx="174.30" cy="699.90" r="2.25" fill="#dc1b2b" stroke="#a8111b" stroke-width="0.6"/>
<circle cx="178.70" cy="699.50" r="2.25" fill="#dc1b2b" stroke="#a8111b" stroke-width="0.6"/>
<circle cx="182.40" cy="702.70" r="2.25" fill="#dc1b2b" stroke="#a8111b" stroke-width="0.6"/>
<circle cx="170.90" cy="705.00" r="2.25" fill="#dc1b2b" stroke="#a8111b" stroke-width="0.6"/>
<circle cx="174.10" cy="707.30" r="2.25" fill="#dc1b2b" stroke="#a8111b" stroke-width="0.6"/>
<circle cx="178.70" cy="708.20" r="2.25" fill="#dc1b2b" stroke="#a8111b" stroke-width="0.6"/>
<circle cx="182.40" cy="710.50" r="2.25" fill="#dc1b2b" stroke="#a8111b" stroke-width="0.6"/>
<circle cx="170.90" cy="711.90" r="2.25" fill="#dc1b2b" stroke="#a8111b" stroke-width="0.6"/>
<circle cx="178.70" cy="716.50" r="2.25" fill="#dc1b2b" stroke="#a8111b" stroke-width="0.6"/>
<circle cx="174.60" cy="719.20" r="2.25" fill="#dc1b2b" stroke="#a8111b" stroke-width="0.6"/>
<line x1="168.10" y1="705.00" x2="184.70" y2="705.00" stroke="#000" stroke-width="1.5" />
<line x1="176.40" y1="698.30" x2="176.40" y2="714.40" stroke="#000" stroke-width="1.5" />
<line x1="172.20" y1="698.30" x2="180.60" y2="698.30" stroke="#000" stroke-width="1.5" />
<line x1="172.20" y1="714.40" x2="180.60" y2="714.40" stroke="#000" stroke-width="1.5" />
<circle cx="218.30" cy="700.20" r="2.5" fill="#000" stroke="none" stroke-width="0"/>
<circle cx="215.00" cy="713.40" r="2.5" fill="#000" stroke="none" stroke-width="0"/>
<circle cx="221.20" cy="713.40" r="2.5" fill="#000" stroke="none" stroke-width="0"/>
<circle cx="211.90" cy="717.00" r="2.5" fill="#000" stroke="none" stroke-width="0"/>
<circle cx="224.70" cy="717.40" r="2.5" fill="#000" stroke="none" stroke-width="0"/>
<circle cx="215.00" cy="720.20" r="2.5" fill="#000" stroke="none" stroke-width="0"/>
<circle cx="218.10" cy="717.40" r="2.5" fill="#000" stroke="none" stroke-width="0"/>
<circle cx="221.20" cy="720.20" r="2.5" fill="#000" stroke="none" stroke-width="0"/>
<circle cx="218.10" cy="714.70" r="2.5" fill="#000" stroke="none" stroke-width="0"/>
<circle cx="212.30" cy="726.80" r="2.5" fill="#000" stroke="none" stroke-width="0"/>
<circle cx="218.50" cy="726.00" r="2.5" fill="#000" stroke="none" stroke-width="0"/>
<circle cx="220.80" cy="726.60" r="2.5" fill="#000" stroke="none" stroke-width="0"/>
<circle cx="224.30" cy="727.90" r="2.5" fill="#000" stroke="none" stroke-width="0"/>
<line x1="210.20" y1="718.50" x2="226.20" y2="718.50" stroke="#000" stroke-width="1.5" />
<line x1="218.20" y1="709.50" x2="218.20" y2="731.40" stroke="#000" stroke-width="1.5" />
<line x1="213.70" y1="709.50" x2="222.70" y2="709.50" stroke="#000" stroke-width="1.5" />
<line x1="213.70" y1="731.40" x2="222.70" y2="731.40" stroke="#000" stroke-width="1.5" />
<circle cx="243.10" cy="705.50" r="2.25" fill="#dc1b2b" stroke="#a8111b" stroke-width="0.6"/>
<circle cx="243.10" cy="711.20" r="2.25" fill="#dc1b2b" stroke="#a8111b" stroke-width="0.6"/>
<circle cx="237.60" cy="724.30" r="2.25" fill="#dc1b2b" stroke="#a8111b" stroke-width="0.6"/>
<circle cx="238.00" cy="728.30" r="2.25" fill="#dc1b2b" stroke="#a8111b" stroke-width="0.6"/>
<circle cx="241.20" cy="726.50" r="2.25" fill="#dc1b2b" stroke="#a8111b" stroke-width="0.6"/>
<circle cx="246.30" cy="724.50" r="2.25" fill="#dc1b2b" stroke="#a8111b" stroke-width="0.6"/>
<circle cx="249.60" cy="724.80" r="2.25" fill="#dc1b2b" stroke="#a8111b" stroke-width="0.6"/>
<circle cx="249.40" cy="728.20" r="2.25" fill="#dc1b2b" stroke="#a8111b" stroke-width="0.6"/>
<circle cx="245.60" cy="730.30" r="2.25" fill="#dc1b2b" stroke="#a8111b" stroke-width="0.6"/>
<circle cx="242.20" cy="729.20" r="2.25" fill="#dc1b2b" stroke="#a8111b" stroke-width="0.6"/>
<circle cx="246.50" cy="727.00" r="2.25" fill="#dc1b2b" stroke="#a8111b" stroke-width="0.6"/>
<line x1="235.15" y1="721.80" x2="251.45" y2="721.80" stroke="#000" stroke-width="1.5" />
<line x1="243.30" y1="713.60" x2="243.30" y2="736.00" stroke="#000" stroke-width="1.5" />
<line x1="238.75" y1="713.60" x2="247.85" y2="713.60" stroke="#000" stroke-width="1.5" />
<line x1="238.75" y1="736.00" x2="247.85" y2="736.00" stroke="#000" stroke-width="1.5" />
<text transform="translate(309.10,584.10) scale(0.93,1)" font-size="30.7" text-anchor="middle" font-weight="bold" fill="#000" >E</text>
<line x1="367.10" y1="616.80" x2="566.00" y2="616.80" stroke="#000" stroke-width="1.4" stroke-dasharray="1.35 1.34"/>
<line x1="367.10" y1="650.20" x2="566.00" y2="650.20" stroke="#000" stroke-width="1.4" stroke-dasharray="1.35 1.34"/>
<line x1="367.10" y1="683.60" x2="566.00" y2="683.60" stroke="#000" stroke-width="1.4" stroke-dasharray="1.35 1.34"/>
<line x1="367.10" y1="717.10" x2="566.00" y2="717.10" stroke="#000" stroke-width="1.4" stroke-dasharray="1.35 1.34"/>
<line x1="365.60" y1="615.60" x2="365.60" y2="751.80" stroke="#000" stroke-width="2" />
<line x1="363.10" y1="750.80" x2="566.00" y2="750.80" stroke="#000" stroke-width="2" />
<line x1="362.90" y1="616.80" x2="365.60" y2="616.80" stroke="#000" stroke-width="2" />
<text transform="translate(360.70,622.30) scale(0.92,1)" font-size="15.5" text-anchor="end" font-weight="normal" fill="#000" >20000</text>
<line x1="362.90" y1="650.20" x2="365.60" y2="650.20" stroke="#000" stroke-width="2" />
<text transform="translate(360.70,655.70) scale(0.92,1)" font-size="15.5" text-anchor="end" font-weight="normal" fill="#000" >15000</text>
<line x1="362.90" y1="683.60" x2="365.60" y2="683.60" stroke="#000" stroke-width="2" />
<text transform="translate(360.70,689.10) scale(0.92,1)" font-size="15.5" text-anchor="end" font-weight="normal" fill="#000" >10000</text>
<line x1="362.90" y1="717.10" x2="365.60" y2="717.10" stroke="#000" stroke-width="2" />
<text transform="translate(360.70,722.60) scale(0.92,1)" font-size="15.5" text-anchor="end" font-weight="normal" fill="#000" >5000</text>
<line x1="362.90" y1="750.80" x2="365.60" y2="750.80" stroke="#000" stroke-width="2" />
<text transform="translate(360.70,756.30) scale(0.92,1)" font-size="15.5" text-anchor="end" font-weight="normal" fill="#000" >0</text>
<line x1="397.60" y1="750.80" x2="397.60" y2="753.80" stroke="#000" stroke-width="1.5" />
<text transform="translate(397.60,768.40) scale(0.92,1)" font-size="15.5" text-anchor="middle" font-weight="normal" fill="#000" >24</text>
<line x1="465.50" y1="750.80" x2="465.50" y2="753.80" stroke="#000" stroke-width="1.5" />
<text transform="translate(465.50,768.40) scale(0.92,1)" font-size="15.5" text-anchor="middle" font-weight="normal" fill="#000" >48</text>
<line x1="532.20" y1="750.80" x2="532.20" y2="753.80" stroke="#000" stroke-width="1.5" />
<text transform="translate(532.20,768.40) scale(0.92,1)" font-size="15.5" text-anchor="middle" font-weight="normal" fill="#000" >72</text>
<text x="464.60" y="785.50" font-size="16.2" text-anchor="middle" font-weight="normal" fill="#000" >Time (h)</text>
<text transform="translate(312.80,680.60) rotate(-90) scale(1.0,1)" font-size="16.3" text-anchor="middle">neutrophils ROS (MFI)</text>
<circle cx="394.00" cy="578.50" r="2.4" fill="#fff" stroke="#000" stroke-width="1.1"/>
<circle cx="478.10" cy="578.50" r="2.5" fill="#b4324a" stroke="#000" stroke-width="1.1"/>
<text x="404.50" y="582.80" font-size="16.1" text-anchor="start" font-weight="normal" fill="#000" >InlC-WT</text>
<text x="489.60" y="582.80" font-size="16.1" text-anchor="start" font-weight="normal" fill="#000" >InlC-K<tspan font-size="11.5" dy="-7">224</tspan></text>
<line x1="376.60" y1="610.70" x2="419.00" y2="610.70" stroke="#000" stroke-width="1.6" />
<polygon points="397.80,600.10 398.65,602.33 401.03,602.45 399.18,603.95 399.80,606.25 397.80,604.95 395.80,606.25 396.42,603.95 394.57,602.45 396.95,602.33" fill="#000"/>
<line x1="443.00" y1="610.70" x2="485.50" y2="610.70" stroke="#000" stroke-width="1.6" />
<polygon points="464.25,600.10 465.10,602.33 467.48,602.45 465.63,603.95 466.25,606.25 464.25,604.95 462.25,606.25 462.87,603.95 461.02,602.45 463.40,602.33" fill="#000"/>
<line x1="509.20" y1="610.70" x2="551.80" y2="610.70" stroke="#000" stroke-width="1.6" />
<text x="530.50" y="605.90" font-size="15.3" text-anchor="middle" font-weight="normal" fill="#000" >ns</text>
<circle cx="380.80" cy="630.10" r="2.1" fill="#fff" stroke="#000" stroke-width="1.1"/>
<circle cx="392.10" cy="628.00" r="2.1" fill="#fff" stroke="#000" stroke-width="1.1"/>
<circle cx="380.80" cy="639.60" r="2.1" fill="#fff" stroke="#000" stroke-width="1.1"/>
<circle cx="386.60" cy="636.60" r="2.1" fill="#fff" stroke="#000" stroke-width="1.1"/>
<circle cx="392.10" cy="638.60" r="2.1" fill="#fff" stroke="#000" stroke-width="1.1"/>
<circle cx="380.80" cy="665.30" r="2.1" fill="#fff" stroke="#000" stroke-width="1.1"/>
<circle cx="392.10" cy="665.30" r="2.1" fill="#fff" stroke="#000" stroke-width="1.1"/>
<circle cx="380.80" cy="678.80" r="2.1" fill="#fff" stroke="#000" stroke-width="1.1"/>
<circle cx="386.60" cy="682.30" r="2.1" fill="#fff" stroke="#000" stroke-width="1.1"/>
<circle cx="392.10" cy="681.80" r="2.1" fill="#fff" stroke="#000" stroke-width="1.1"/>
<circle cx="392.10" cy="687.40" r="2.1" fill="#fff" stroke="#000" stroke-width="1.1"/>
<circle cx="380.80" cy="689.40" r="2.1" fill="#fff" stroke="#000" stroke-width="1.1"/>
<line x1="378.80" y1="660.20" x2="395.40" y2="660.20" stroke="#000" stroke-width="1.5" />
<line x1="387.10" y1="653.20" x2="387.10" y2="667.20" stroke="#000" stroke-width="1.5" />
<line x1="382.80" y1="653.20" x2="391.40" y2="653.20" stroke="#000" stroke-width="1.5" />
<line x1="382.80" y1="667.20" x2="391.40" y2="667.20" stroke="#000" stroke-width="1.5" />
<circle cx="405.70" cy="655.70" r="2.2" fill="#b4324a" stroke="#000" stroke-width="1.0"/>
<circle cx="417.30" cy="660.70" r="2.2" fill="#b4324a" stroke="#000" stroke-width="1.0"/>
<circle cx="411.70" cy="662.70" r="2.2" fill="#b4324a" stroke="#000" stroke-width="1.0"/>
<circle cx="405.70" cy="667.30" r="2.2" fill="#b4324a" stroke="#000" stroke-width="1.0"/>
<circle cx="417.30" cy="666.80" r="2.2" fill="#b4324a" stroke="#000" stroke-width="1.0"/>
<circle cx="405.70" cy="675.30" r="2.2" fill="#b4324a" stroke="#000" stroke-width="1.0"/>
<circle cx="417.30" cy="674.30" r="2.2" fill="#b4324a" stroke="#000" stroke-width="1.0"/>
<circle cx="417.30" cy="680.80" r="2.2" fill="#b4324a" stroke="#000" stroke-width="1.0"/>
<circle cx="411.70" cy="683.90" r="2.2" fill="#b4324a" stroke="#000" stroke-width="1.0"/>
<circle cx="405.70" cy="688.90" r="2.2" fill="#b4324a" stroke="#000" stroke-width="1.0"/>
<circle cx="417.30" cy="688.40" r="2.2" fill="#b4324a" stroke="#000" stroke-width="1.0"/>
<line x1="405.40" y1="675.30" x2="418.00" y2="675.30" stroke="#000" stroke-width="1.5" />
<line x1="411.70" y1="671.80" x2="411.70" y2="679.30" stroke="#000" stroke-width="1.5" />
<line x1="407.95" y1="671.80" x2="415.45" y2="671.80" stroke="#000" stroke-width="1.5" />
<line x1="407.95" y1="679.30" x2="415.45" y2="679.30" stroke="#000" stroke-width="1.5" />
<circle cx="453.10" cy="672.10" r="2.1" fill="#fff" stroke="#000" stroke-width="1.1"/>
<circle cx="447.60" cy="679.60" r="2.1" fill="#fff" stroke="#000" stroke-width="1.1"/>
<circle cx="458.90" cy="680.10" r="2.1" fill="#fff" stroke="#000" stroke-width="1.1"/>
<circle cx="447.60" cy="685.60" r="2.1" fill="#fff" stroke="#000" stroke-width="1.1"/>
<circle cx="453.10" cy="687.20" r="2.1" fill="#fff" stroke="#000" stroke-width="1.1"/>
<circle cx="458.90" cy="690.20" r="2.1" fill="#fff" stroke="#000" stroke-width="1.1"/>
<circle cx="453.10" cy="694.70" r="2.1" fill="#fff" stroke="#000" stroke-width="1.1"/>
<circle cx="447.60" cy="697.70" r="2.1" fill="#fff" stroke="#000" stroke-width="1.1"/>
<circle cx="458.90" cy="697.70" r="2.1" fill="#fff" stroke="#000" stroke-width="1.1"/>
<circle cx="453.10" cy="704.20" r="2.1" fill="#fff" stroke="#000" stroke-width="1.1"/>
<circle cx="447.60" cy="708.80" r="2.1" fill="#fff" stroke="#000" stroke-width="1.1"/>
<circle cx="458.90" cy="708.80" r="2.1" fill="#fff" stroke="#000" stroke-width="1.1"/>
<line x1="445.00" y1="692.20" x2="461.60" y2="692.20" stroke="#000" stroke-width="1.5" />
<line x1="453.30" y1="688.70" x2="453.30" y2="695.20" stroke="#000" stroke-width="1.5" />
<line x1="449.00" y1="688.70" x2="457.60" y2="688.70" stroke="#000" stroke-width="1.5" />
<line x1="449.00" y1="695.20" x2="457.60" y2="695.20" stroke="#000" stroke-width="1.5" />
<circle cx="478.00" cy="688.70" r="2.2" fill="#b4324a" stroke="#000" stroke-width="1.0"/>
<circle cx="472.70" cy="699.70" r="2.2" fill="#b4324a" stroke="#000" stroke-width="1.0"/>
<circle cx="481.20" cy="697.70" r="2.2" fill="#b4324a" stroke="#000" stroke-width="1.0"/>
<circle cx="478.20" cy="700.70" r="2.2" fill="#b4324a" stroke="#000" stroke-width="1.0"/>
<circle cx="484.30" cy="701.70" r="2.2" fill="#b4324a" stroke="#000" stroke-width="1.0"/>
<circle cx="481.20" cy="704.20" r="2.2" fill="#b4324a" stroke="#000" stroke-width="1.0"/>
<circle cx="475.20" cy="708.80" r="2.2" fill="#b4324a" stroke="#000" stroke-width="1.0"/>
<circle cx="478.00" cy="715.30" r="2.2" fill="#b4324a" stroke="#000" stroke-width="1.0"/>
<circle cx="483.80" cy="721.30" r="2.2" fill="#b4324a" stroke="#000" stroke-width="1.0"/>
<circle cx="472.70" cy="726.40" r="2.2" fill="#b4324a" stroke="#000" stroke-width="1.0"/>
<line x1="470.20" y1="706.30" x2="486.80" y2="706.30" stroke="#000" stroke-width="1.5" />
<line x1="478.50" y1="702.70" x2="478.50" y2="709.50" stroke="#000" stroke-width="1.5" />
<line x1="474.75" y1="702.70" x2="482.25" y2="702.70" stroke="#000" stroke-width="1.5" />
<line x1="474.75" y1="709.50" x2="482.25" y2="709.50" stroke="#000" stroke-width="1.5" />
<circle cx="513.60" cy="722.80" r="2.1" fill="#fff" stroke="#000" stroke-width="1.1"/>
<circle cx="518.00" cy="722.20" r="2.1" fill="#fff" stroke="#000" stroke-width="1.1"/>
<circle cx="521.80" cy="720.30" r="2.1" fill="#fff" stroke="#000" stroke-width="1.1"/>
<circle cx="525.80" cy="720.30" r="2.1" fill="#fff" stroke="#000" stroke-width="1.1"/>
<circle cx="513.40" cy="725.60" r="2.1" fill="#fff" stroke="#000" stroke-width="1.1"/>
<circle cx="525.80" cy="724.50" r="2.1" fill="#fff" stroke="#000" stroke-width="1.1"/>
<circle cx="519.50" cy="725.20" r="2.1" fill="#fff" stroke="#000" stroke-width="1.1"/>
<circle cx="514.40" cy="732.80" r="2.1" fill="#fff" stroke="#000" stroke-width="1.1"/>
<circle cx="519.90" cy="730.70" r="2.1" fill="#fff" stroke="#000" stroke-width="1.1"/>
<circle cx="525.60" cy="732.80" r="2.1" fill="#fff" stroke="#000" stroke-width="1.1"/>
<line x1="511.80" y1="725.40" x2="527.80" y2="725.40" stroke="#000" stroke-width="1.7" />
<line x1="519.80" y1="722.90" x2="519.80" y2="727.90" stroke="#000" stroke-width="1.7" />
<line x1="515.55" y1="722.90" x2="524.05" y2="722.90" stroke="#000" stroke-width="1.7" />
<line x1="515.55" y1="727.90" x2="524.05" y2="727.90" stroke="#000" stroke-width="1.7" />
<circle cx="545.20" cy="716.40" r="2.2" fill="#b4324a" stroke="#000" stroke-width="1.0"/>
<circle cx="542.10" cy="718.70" r="2.2" fill="#b4324a" stroke="#000" stroke-width="1.0"/>
<circle cx="538.90" cy="723.40" r="2.2" fill="#b4324a" stroke="#000" stroke-width="1.0"/>
<circle cx="545.00" cy="723.60" r="2.2" fill="#b4324a" stroke="#000" stroke-width="1.0"/>
<circle cx="550.80" cy="723.60" r="2.2" fill="#b4324a" stroke="#000" stroke-width="1.0"/>
<circle cx="538.90" cy="732.10" r="2.2" fill="#b4324a" stroke="#000" stroke-width="1.0"/>
<circle cx="544.60" cy="732.10" r="2.2" fill="#b4324a" stroke="#000" stroke-width="1.0"/>
<circle cx="547.60" cy="732.10" r="2.2" fill="#b4324a" stroke="#000" stroke-width="1.0"/>
<circle cx="550.80" cy="733.30" r="2.2" fill="#b4324a" stroke="#000" stroke-width="1.0"/>
<circle cx="542.50" cy="727.50" r="2.2" fill="#b4324a" stroke="#000" stroke-width="1.0"/>
<line x1="536.90" y1="726.30" x2="553.10" y2="726.30" stroke="#000" stroke-width="1.5" />
<line x1="545.00" y1="724.00" x2="545.00" y2="728.50" stroke="#000" stroke-width="1.5" />
<line x1="540.75" y1="724.00" x2="549.25" y2="724.00" stroke="#000" stroke-width="1.5" />
<line x1="540.75" y1="728.50" x2="549.25" y2="728.50" stroke="#000" stroke-width="1.5" />
</svg></body></html>
